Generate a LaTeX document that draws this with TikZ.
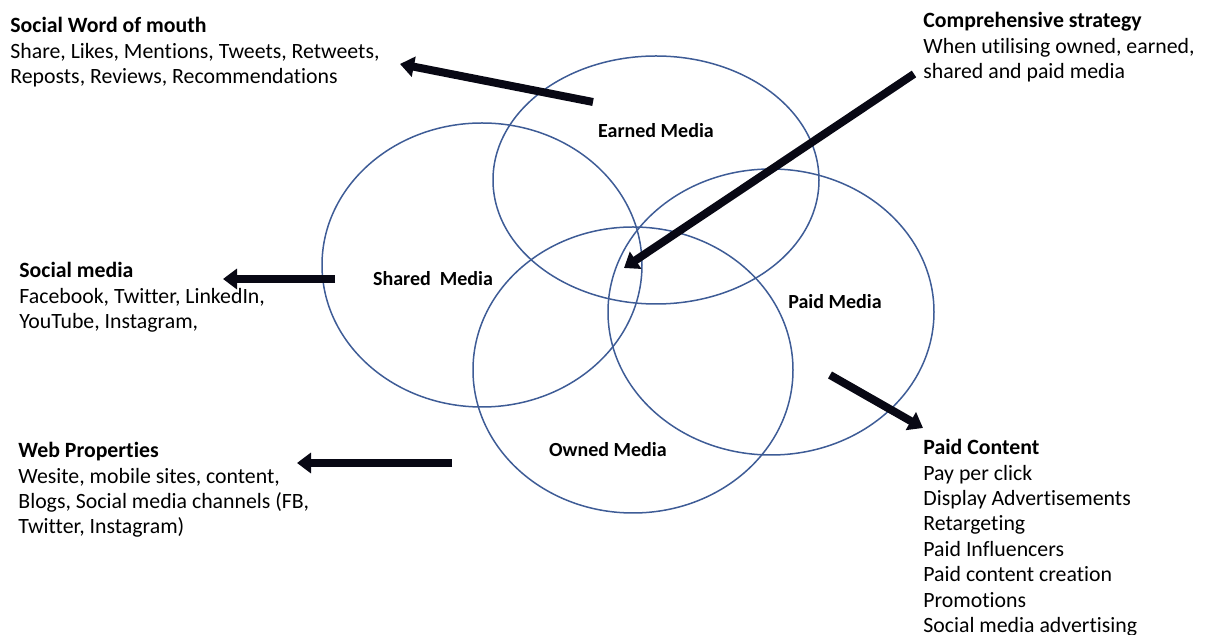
\documentclass[tikz,border=0pt]{standalone}
\usepackage{fontspec}
\setmainfont{Carlito}[Ligatures=NoCommon]
\usetikzlibrary{arrows.meta}
\definecolor{vennblue}{RGB}{62,92,150}
\definecolor{arrowblack}{RGB}{8,8,20}

\begin{document}
\begin{tikzpicture}[x=0.5pt,y=-0.5pt,
        media/.style={draw=vennblue, line width=0.75pt},
        bigarrow/.style={draw=arrowblack, line width=4pt, -{Triangle[length=7pt,width=10pt]}},
        medialbl/.style={font=\fontsize{10}{12}\selectfont\bfseries, inner sep=0pt},
        note/.style={anchor=north west, inner sep=0pt, align=left, font=\fontsize{10.9}{12.7}\selectfont}]
        \useasboundingbox (0,0) rectangle (1207,635);
        % the four media circles
        \draw[media] (656,180) ellipse [x radius=163, y radius=124];
        \draw[media] (482,265) ellipse [x radius=160, y radius=142];
        \draw[media] (771,312) ellipse [x radius=163, y radius=143];
        \draw[media] (633,370) ellipse [x radius=160, y radius=143];
        \node[medialbl] (earned) at (656,131) {Earned Media};
        \node[medialbl] (shared) at (433,279) {Shared\ \ Media};
        \node[medialbl] (paid) at (835,302) {Paid Media};
        \node[medialbl] (owned) at (608,450) {Owned Media};
        % side notes
        \node[note] (wordmouth) at (10,17) {\textbf{Social Word of mouth}\\Share, Likes, Mentions, Tweets, Retweets,\\Reposts, Reviews, Recommendations};
        \node[note] (strategy) at (923,12) {\textbf{Comprehensive strategy}\\When utilising owned, earned,\\shared and paid media};
        \node[note] (socialmedia) at (19,262) {\textbf{Social media}\\Facebook, Twitter, LinkedIn,\\YouTube, Instagram,};
        \node[note] (webprop) at (18,442) {\textbf{Web Properties}\\Wesite, mobile sites, content,\\Blogs, Social media channels (FB,\\Twitter, Instagram)};
        \node[note] (paidcontent) at (923,439) {\textbf{Paid Content}\\Pay per click\\Display Advertisements\\Retargeting\\Paid Influencers\\Paid content creation\\Promotions\\Social media advertising};
        % arrows
        \coordinate (womtail) at (593,102);
        \coordinate (womtip) at (400,64);
        \coordinate (strtail) at (914,74);
        \coordinate (strtip) at (624,268);
        \coordinate (smtail) at (335,279);
        \coordinate (smtip) at (223,279);
        \coordinate (webtail) at (452,463);
        \coordinate (webtip) at (297,463);
        \coordinate (pctail) at (830,375);
        \coordinate (pctip) at (923,428);
        \draw[bigarrow] (womtail) -- (womtip);
        \draw[bigarrow] (strtail) -- (strtip);
        \draw[bigarrow] (smtail) -- (smtip);
        \draw[bigarrow] (webtail) -- (webtip);
        \draw[bigarrow] (pctail) -- (pctip);
\end{tikzpicture}
\end{document}
